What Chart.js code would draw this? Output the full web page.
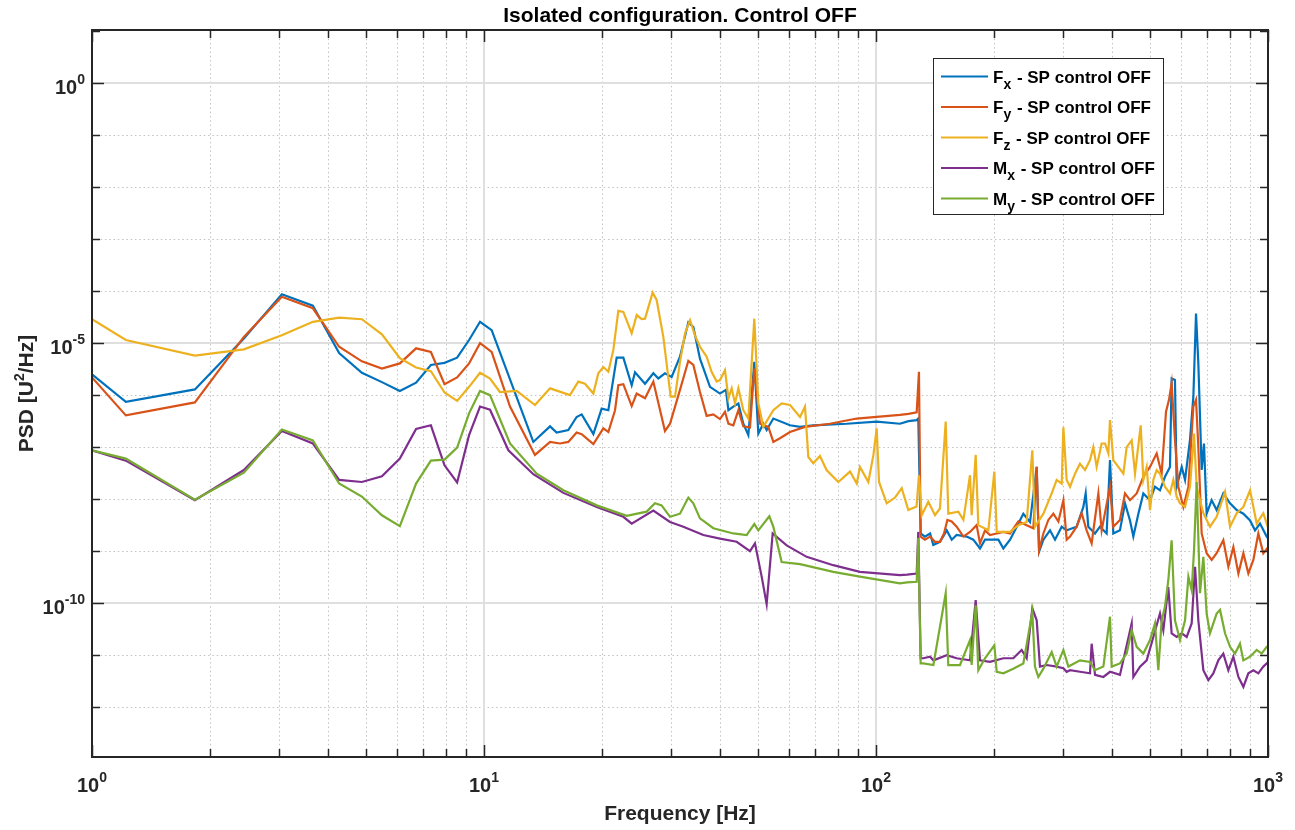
<!DOCTYPE html>
<html>
<head>
<meta charset="utf-8">
<title>Isolated configuration. Control OFF</title>
<script src="https://cdn.jsdelivr.net/npm/chart.js@4.4.1/dist/chart.umd.min.js"></script>
<style>
  html, body { margin: 0; padding: 0; background: #fff; }
  canvas { display: block; }
</style>
</head>
<body>
<canvas id="psdChart" width="1295" height="830"></canvas>
<script>
// PSD values as log10(PSD) in U^2/Hz

const fxFreq = [1, 1.22, 1.83, 2.44, 3.05, 3.66, 4.27, 4.88, 5.49, 6.10, 6.71, 7.32, 7.93, 8.54, 9.16, 9.77,
  10.46, 13.36, 14.74, 15.32, 16.41, 17.23, 17.75, 19.01, 19.96, 20.76,
  21.8, 22.67, 23.81, 24.28, 25.75, 27.04, 27.84, 28.95, 30.11, 31.62,
  33.21, 34.2, 35.56, 37.71, 39.99, 41.42, 42.02, 43.25, 44.56, 45.87,
  47.24, 48.93, 50.1, 51.59, 52.61, 54.71, 60.34, 64, 69.2, 84.2,
  100.4, 115.1, 121, 127, 128.2, 130, 133.3, 137.4, 140, 145.6,
  151.5, 156, 160.6, 170.3, 177.1, 184.2, 189.7, 195.3, 205.2, 211.3,
  219.8, 228.6, 237.6, 247.1, 257, 260.6, 267.3, 277.9, 286.2, 297.7,
  306.5, 325, 338, 342.7, 348, 362, 372.7, 387.6, 395.3, 403.1,
  419.1, 431.7, 444.6, 453.4, 467, 480.8, 500, 514.9, 530.2, 545.9,
  562.3, 567.8, 579, 584.8, 602.4, 614.3, 632.4, 645, 655.2, 664.2,
  677.3, 686.6, 697.4, 718.3, 739.6, 769.2, 800.1, 832.1, 865.3, 899.9,
  926.6, 954.2, 992.2, 1011.8];
const fxLog = [-5.60, -6.13, -5.89, -4.91, -4.06, -4.28, -5.19, -5.57, -5.75, -5.92, -5.76, -5.42, -5.38, -5.28, -4.94, -4.59,
  -4.75, -6.90, -6.60, -6.72, -6.67, -6.42, -6.37, -6.75, -6.26, -6.29,
  -5.28, -5.28, -5.81, -5.56, -5.78, -5.58, -5.68, -5.58, -5.65, -5.26,
  -4.60, -4.69, -5.30, -5.84, -5.97, -5.90, -6.29, -6.22, -6.16, -6.55,
  -6.77, -5.36, -6.74, -6.55, -6.67, -6.45, -6.58, -6.61, -6.58, -6.55,
  -6.51, -6.55, -6.50, -6.48, -6.45, -8.66, -8.72, -8.66, -8.88, -8.82,
  -8.60, -8.78, -8.69, -8.72, -8.78, -8.95, -8.78, -8.78, -8.78, -8.95,
  -8.78, -8.53, -8.28, -8.44, -7.38, -9.01, -8.78, -8.60, -8.78, -8.53,
  -8.60, -8.53, -8.15, -7.89, -8.53, -8.66, -8.53, -8.66, -7.25, -8.66,
  -8.60, -8.08, -8.41, -8.72, -8.28, -7.89, -8.02, -7.76, -7.83, -7.57,
  -7.38, -5.68, -5.71, -7.76, -7.38, -7.63, -6.86, -6.03, -4.43, -5.39,
  -7.44, -6.93, -8.28, -8.02, -8.21, -7.89, -8.08, -8.21, -8.28, -8.41,
  -8.60, -8.47, -8.72, -8.79];

const fyFreq = [1, 1.22, 1.83, 2.44, 3.05, 3.66, 4.27, 4.88, 5.49, 6.10, 6.71, 7.32, 7.93, 8.54, 9.16, 9.77,
  10.46, 11.65, 13.49, 14.74, 15.63, 16.41, 17.23, 17.75, 19.01, 20.16, 20.76, 21.59,
  22.01, 22.67, 23.81, 24.52, 25.75, 27.04, 28.95, 29.82, 31.62, 33.21,
  34.2, 35.56, 36.98, 38.46, 39.99, 41.19, 42.02, 43.25, 44.56, 45.87,
  47.7, 48.93, 50.59, 53.13, 54.71, 56.89, 60.34, 65.9, 76.3, 89.3,
  100.4, 115.1, 121, 127, 128.7, 130, 133.3, 137.4, 141.4, 145.6,
  149.1, 152.1, 156, 160.6, 167.1, 173.7, 180.6, 184.2, 189.7, 195.3,
  203.2, 211.3, 219.8, 230.8, 242.3, 252, 257, 260.6, 267.3, 275.2,
  283.4, 291.9, 300.6, 306.5, 312.6, 325, 334.7, 344.6, 354.9, 369.2,
  376.4, 395.3, 403.1, 419.1, 431.7, 444.6, 462.4, 480.8, 500, 520,
  535.4, 549.3, 559, 567.8, 579, 590.5, 608.3, 626.5, 645, 655.2,
  664.2, 677.3, 697.4, 718.3, 739.6, 769.2, 792.2, 815.9, 840.4, 865.3,
  891, 917.6, 944.8, 972.9, 1002];
const fyLog = [-5.66, -6.39, -6.14, -4.88, -4.11, -4.33, -5.07, -5.35, -5.49, -5.39, -5.10, -5.17, -5.79, -5.66, -5.39, -5.00,
  -5.17, -6.22, -7.15, -6.90, -6.93, -6.90, -6.72, -6.75, -6.94, -6.64, -6.71, -6.29,
  -5.81, -5.79, -6.21, -5.97, -6.06, -5.74, -6.69, -6.55, -5.90, -5.34,
  -5.42, -5.94, -6.40, -6.37, -6.46, -6.32, -6.55, -6.58, -6.29, -6.60,
  -6.62, -5.49, -6.55, -6.61, -6.90, -6.83, -6.71, -6.61, -6.55, -6.45,
  -6.42, -6.38, -6.36, -6.33, -5.55, -8.72, -8.78, -8.72, -8.82, -8.82,
  -8.66, -8.40, -8.43, -8.53, -8.72, -8.63, -8.50, -8.85, -8.60, -8.69,
  -8.66, -8.63, -8.66, -8.43, -8.50, -8.56, -7.38, -8.98, -8.66, -8.40,
  -8.28, -8.43, -8.02, -8.78, -8.72, -8.53, -8.27, -8.60, -8.85, -7.89,
  -8.60, -7.76, -8.53, -8.40, -7.89, -8.02, -7.89, -7.57, -7.38, -7.12,
  -7.51, -6.32, -6.09, -5.77, -6.86, -7.76, -8.15, -7.76, -6.22, -6.09,
  -7.00, -8.66, -9.04, -9.17, -9.04, -8.79, -9.30, -8.92, -9.43, -9.04,
  -9.43, -9.17, -8.66, -9.04, -8.92];

const fzFreq = [1, 1.22, 1.83, 2.44, 3.05, 3.66, 4.27, 4.88, 5.49, 6.10, 6.71, 7.32, 7.93, 8.54, 9.16, 9.77,
  10.36, 10.98, 12.12, 13.49, 14.74, 16.57, 17.4, 18.1, 19.01, 19.57, 20.16, 20.76, 21.38, 22.01,
  22.67, 23.81, 24.52, 25.25, 25.75, 26.93, 27.57, 28.67, 29.94, 30.71,
  31.62, 32.57, 33.54, 34.53, 35.56, 36.98, 38.07, 39.22, 39.99, 41.19,
  42.02, 42.84, 43.68, 44.56, 45.87, 47.24, 48.93, 50.1, 51.59, 54.71,
  57.45, 60.34, 64, 65.9, 67.2, 69.2, 71.95, 74.8, 80.15, 85.85,
  89.3, 91, 95.6, 98.5, 100.4, 101.8, 106.5, 111.8, 116.3, 120.9,
  126.9, 128.7, 130.8, 136, 141.4, 145.6, 150.6, 152.9, 162.2, 167.1,
  173.7, 175.4, 179.6, 182.4, 193.5, 200.4, 203.2, 219.8, 230.8, 242.3,
  250.5, 254.4, 267.3, 280.7, 289, 297.7, 300.6, 306.5, 312.6, 321.9,
  331.4, 341.4, 351.5, 358.4, 365.5, 376.4, 383.9, 391.5, 395.3, 403.1,
  415.1, 427.6, 436, 449, 457.9, 473.4, 480.8, 490.4, 500, 509.9,
  520, 530.2, 545.9, 562.3, 573.4, 584.8, 596.3, 614.3, 632.4, 647.6,
  657.7, 670.7, 684, 711.2, 739.6, 776.9, 800.1, 832.1, 865.3, 899.9,
  935.7, 972.9, 1011.8];
const fzLog = [-4.54, -4.94, -5.24, -5.12, -4.85, -4.59, -4.51, -4.54, -4.83, -5.29, -5.47, -5.54, -5.95, -6.11, -5.84, -5.57,
  -5.68, -5.94, -5.92, -6.19, -5.87, -6.00, -5.74, -5.78, -5.97, -5.58, -5.46, -5.55, -5.13, -4.38,
  -4.40, -4.81, -4.46, -4.54, -4.53, -4.03, -4.17, -4.88, -6.03, -6.03,
  -5.36, -4.81, -4.56, -4.85, -5.07, -5.26, -5.55, -5.74, -5.71, -5.52,
  -6.06, -5.87, -6.16, -5.87, -6.29, -6.45, -4.53, -6.16, -6.61, -6.29,
  -6.16, -6.19, -6.42, -6.22, -7.19, -7.31, -7.17, -7.44, -7.67, -7.47,
  -7.70, -7.38, -7.67, -7.15, -6.64, -7.67, -8.08, -7.97, -7.79, -8.21,
  -8.14, -7.54, -8.31, -8.05, -8.31, -8.18, -6.51, -8.28, -8.24, -8.40,
  -7.54, -8.31, -7.15, -8.50, -8.60, -7.47, -8.63, -8.63, -8.50, -8.44,
  -7.06, -8.53, -8.28, -7.89, -7.63, -7.70, -6.62, -7.63, -7.76, -7.51,
  -7.32, -7.44, -7.25, -7.00, -7.38, -6.93, -6.93, -7.12, -6.48, -7.25,
  -7.38, -7.51, -7.00, -6.87, -7.51, -6.58, -7.63, -7.38, -8.21, -7.63,
  -7.44, -7.51, -7.76, -7.89, -7.63, -7.95, -8.08, -8.15, -7.76, -6.74,
  -7.76, -8.02, -8.27, -8.53, -8.34, -7.86, -8.53, -8.27, -8.15, -7.83,
  -8.47, -8.27, -8.66];

const mxFreq = [1, 1.22, 1.83, 2.44, 3.05, 3.66, 4.27, 4.88, 5.49, 6.10, 6.71, 7.32, 7.93, 8.54, 9.16, 9.77,
  10.36, 11.54, 13.36, 15.94, 19.39, 22.67, 23.81, 27.04, 29.82, 32.25, 36.26, 39.99, 44.12, 47.7,
  49.12, 51.09, 52.61, 54.5, 59.17, 66.55, 77.8, 91, 115.1, 120,
  127, 128.2, 130, 132, 137.4, 140.1, 151.5, 160.6, 173.7, 179.6,
  184.2, 195.3, 211.3, 224, 235.3, 242.3, 250.5, 257, 262, 272.5,
  289, 300.6, 306.5, 312.6, 331.4, 351.5, 354.9, 362, 380.2, 395.3,
  419.1, 449, 453.4, 471.5, 490.4, 509.9, 530.2, 540.7, 556.8, 567.8,
  584.8, 602.4, 620.3, 638.7, 651.4, 664.2, 684, 704.4, 725.3, 746.8,
  769.2, 792.2, 815.9, 840.4, 865.3, 891, 917.6, 944.8, 972.9, 1011.8];
const mxLog = [-7.06, -7.26, -8.02, -7.44, -6.69, -6.93, -7.63, -7.67, -7.56, -7.22, -6.65, -6.58, -7.35, -7.68, -6.77, -6.22,
  -6.28, -7.06, -7.52, -7.88, -8.15, -8.34, -8.47, -8.22, -8.44, -8.53, -8.69, -8.76, -8.82, -9.00,
  -8.85, -9.49, -10.02, -8.66, -8.89, -9.11, -9.27, -9.40, -9.46, -9.45,
  -9.43, -8.63, -11.06, -11.06, -11.03, -11.10, -11.00, -11.06, -11.10, -9.94,
  -11.10, -11.13, -11.06, -11.06, -10.90, -11.06, -10.10, -10.33, -11.22, -11.19,
  -11.22, -11.25, -11.32, -11.29, -11.32, -11.35, -10.78, -11.38, -11.42, -11.32,
  -11.38, -10.39, -11.42, -11.22, -11.10, -10.65, -10.20, -10.52, -9.69, -10.58,
  -10.65, -10.58, -10.65, -10.39, -9.30, -10.33, -11.29, -11.48, -11.35, -11.10,
  -10.97, -11.29, -11.03, -11.42, -11.61, -11.35, -11.29, -11.35, -11.22, -11.10];

const myFreq = [1, 1.22, 1.83, 2.44, 3.05, 3.66, 4.27, 4.88, 5.49, 6.10, 6.71, 7.32, 7.93, 8.54, 9.16, 9.77,
  10.36, 11.65, 13.63, 15.94, 19.39, 23.12, 26, 27.3, 28.39, 29.82, 31.62, 33.21, 34.2, 35.56,
  38.46, 43.25, 46.78, 48.93, 50.1, 53.44, 54.71, 57.45, 64, 77.8,
  91, 115.1, 120, 127, 128.2, 130, 132, 140.1, 150.6, 152.9,
  163.8, 173.7, 175.4, 179.6, 182.4, 189.7, 200.4, 203.2, 211.3, 224,
  237.6, 250.5, 254.4, 259.5, 267.3, 280.7, 289, 300.6, 309.6, 331.4,
  351.5, 362, 380.2, 395.3, 399.2, 419.1, 436, 449, 462.4, 480.8,
  500, 514.9, 525.1, 535.4, 545.9, 556.8, 567.8, 579, 596.3, 614.3,
  626.5, 638.7, 647.6, 657.7, 670.7, 684, 697.4, 711.2, 739.6, 754.5,
  776.9, 800.1, 823.9, 848.2, 865.3, 899.9, 935.7, 963.4, 992.2, 1011.8];
const myLog = [-7.06, -7.22, -8.01, -7.49, -6.66, -6.87, -7.70, -7.95, -8.31, -8.52, -7.70, -7.26, -7.24, -7.01, -6.35, -5.92,
  -6.00, -6.93, -7.51, -7.83, -8.12, -8.32, -8.24, -8.08, -8.12, -8.34, -8.28, -7.97, -8.08, -8.37,
  -8.56, -8.66, -8.69, -8.48, -8.60, -8.33, -8.53, -9.21, -9.25, -9.40,
  -9.49, -9.62, -9.60, -9.59, -8.75, -11.16, -11.16, -11.19, -9.81, -11.19,
  -11.19, -10.71, -11.19, -10.04, -11.29, -11.06, -10.81, -11.32, -11.35, -11.26,
  -11.16, -10.17, -11.22, -11.42, -11.26, -10.94, -11.22, -10.90, -11.22, -11.10,
  -11.13, -11.29, -11.22, -10.26, -11.22, -11.16, -10.97, -10.52, -10.84, -10.97,
  -10.71, -10.39, -11.29, -10.33, -10.07, -9.56, -8.79, -10.33, -10.71, -10.33,
  -9.49, -9.75, -8.98, -7.67, -9.81, -9.11, -10.20, -10.58, -10.20, -10.13,
  -10.58, -10.84, -10.97, -10.78, -11.10, -11.03, -10.90, -10.97, -10.84, -10.81];

const seriesLabels = ['Fx - SP control OFF', 'Fy - SP control OFF', 'Fz - SP control OFF', 'Mx - SP control OFF', 'My - SP control OFF'];
const legendMain = ['F', 'F', 'F', 'M', 'M'];
const legendSub = ['x', 'y', 'z', 'x', 'y'];
const legendRest = ' - SP control OFF';
const seriesColors = ['#0072BD', '#D95319', '#EDB120', '#7E2F8E', '#77AC30'];

// axis ticks
const xMajorTicks = [1, 10, 100, 1000];
const xTickExp = ['0', '1', '2', '3'];
const xMinorTicks = [2, 3, 4, 5, 6, 7, 8, 9, 20, 30, 40, 50, 60, 70, 80, 90, 200, 300, 400, 500, 600, 700, 800, 900];
const yMajorTicks = [1e0, 1e-5, 1e-10];
const yTickExp = ['0', '-5', '-10'];
const yDecades = [1e1, 1e0, 1e-1, 1e-2, 1e-3, 1e-4, 1e-5, 1e-6, 1e-7, 1e-8, 1e-9, 1e-10, 1e-11, 1e-12, 1e-13];

const FONT = '"Liberation Sans", Arial, Helvetica, sans-serif';
const INK = '#262626';

function toPoints(freq, logs) {
  return freq.map((f, i) => ({ x: f, y: Math.pow(10, logs[i]) }));
}

const seriesData = [
  toPoints(fxFreq, fxLog),
  toPoints(fyFreq, fyLog),
  toPoints(fzFreq, fzLog),
  toPoints(mxFreq, mxLog),
  toPoints(myFreq, myLog)
];

function seg(ctx, x1, y1, x2, y2) {
  ctx.beginPath();
  ctx.moveTo(x1, y1);
  ctx.lineTo(x2, y2);
  ctx.stroke();
}

// "10" with a raised exponent
function powLabel(ctx, exp, x, y, align) {
  ctx.font = 'bold 20px ' + FONT;
  const wb = ctx.measureText('10').width;
  ctx.font = 'bold 14px ' + FONT;
  const we = ctx.measureText(exp).width;
  const total = wb + we;
  let x0 = x;
  if (align === 'right') x0 = x - total;
  if (align === 'center') x0 = x - total / 2;
  ctx.textAlign = 'left';
  ctx.textBaseline = 'alphabetic';
  ctx.font = 'bold 20px ' + FONT;
  ctx.fillText('10', x0, y);
  ctx.font = 'bold 14px ' + FONT;
  ctx.fillText(exp, x0 + wb, y - 10);
}

const matlabAxes = {
  id: 'matlabAxes',
  beforeDatasetsDraw(chart) {
    const { ctx, chartArea: a, scales: { x, y } } = chart;
    ctx.save();
    // dotted minor grid
    ctx.lineWidth = 1;
    ctx.strokeStyle = '#c2c2c2';
    ctx.setLineDash([1.5, 2.8]);
    xMinorTicks.forEach(v => {
      const px = Math.round(x.getPixelForValue(v)) + 0.5;
      seg(ctx, px, a.top, px, a.bottom);
    });
    yDecades.forEach(v => {
      if (yMajorTicks.includes(v)) return;
      const py = Math.round(y.getPixelForValue(v)) + 0.5;
      if (py < a.top + 3 || py > a.bottom - 3) return;
      seg(ctx, a.left, py, a.right, py);
    });
    // solid major grid
    ctx.setLineDash([]);
    ctx.strokeStyle = '#dfdfdf';
    ctx.lineWidth = 2;
    xMajorTicks.forEach(v => {
      const px = Math.round(x.getPixelForValue(v));
      if (px < a.left + 3 || px > a.right - 3) return;
      seg(ctx, px, a.top, px, a.bottom);
    });
    yMajorTicks.forEach(v => {
      const py = Math.round(y.getPixelForValue(v));
      seg(ctx, a.left, py, a.right, py);
    });
    ctx.restore();
  },
  afterDatasetsDraw(chart) {
    const { ctx, chartArea: a, scales: { x, y } } = chart;
    ctx.save();
    ctx.strokeStyle = INK;
    ctx.lineWidth = 1.5;
    // inward ticks on all four sides
    const xt = xMinorTicks.map(v => [v, 8]).concat(xMajorTicks.map(v => [v, 12]));
    xt.forEach(([v, len]) => {
      const px = Math.round(x.getPixelForValue(v)) + 0.5;
      seg(ctx, px, a.bottom, px, a.bottom - len);
      seg(ctx, px, a.top, px, a.top + len);
    });
    yDecades.forEach(v => {
      const py = Math.round(y.getPixelForValue(v)) + 0.5;
      if (py < a.top || py > a.bottom) return;
      const len = yMajorTicks.includes(v) ? 12 : 8;
      seg(ctx, a.left, py, a.left + len, py);
      seg(ctx, a.right, py, a.right - len, py);
    });
    // box
    ctx.lineWidth = 2;
    ctx.strokeRect(a.left, a.top, a.right - a.left, a.bottom - a.top);
    ctx.restore();
  },
  afterDraw(chart) {
    const { ctx, chartArea: a, scales: { x, y } } = chart;
    ctx.save();
    ctx.fillStyle = INK;
    // tick labels
    xMajorTicks.forEach((v, i) => powLabel(ctx, xTickExp[i], x.getPixelForValue(v), 792, 'center'));
    yMajorTicks.forEach((v, i) => powLabel(ctx, yTickExp[i], a.left - 7, y.getPixelForValue(v) + 11, 'right'));

    // titles
    const cx = (a.left + a.right) / 2;
    ctx.textAlign = 'center';
    ctx.textBaseline = 'alphabetic';
    ctx.fillStyle = '#000';
    ctx.font = 'bold 21px ' + FONT;
    ctx.fillText('Isolated configuration. Control OFF', cx, 22);
    ctx.fillStyle = INK;
    ctx.fillText('Frequency [Hz]', cx, 820);

    // y label with superscript
    ctx.save();
    ctx.translate(33, (a.top + a.bottom) / 2);
    ctx.rotate(-Math.PI / 2);
    ctx.textAlign = 'left';
    const p1 = 'PSD [U', p2 = '2', p3 = '/Hz]';
    ctx.font = 'bold 21px ' + FONT;
    const w1 = ctx.measureText(p1).width, w3 = ctx.measureText(p3).width;
    ctx.font = 'bold 14px ' + FONT;
    const w2 = ctx.measureText(p2).width;
    const sx = -(w1 + w2 + w3) / 2;
    ctx.font = 'bold 21px ' + FONT;
    ctx.fillText(p1, sx, 0);
    ctx.font = 'bold 14px ' + FONT;
    ctx.fillText(p2, sx + w1, -9);
    ctx.font = 'bold 21px ' + FONT;
    ctx.fillText(p3, sx + w1 + w2, 0);
    ctx.restore();

    // legend
    const lx = 933, ly = 58, lw = 230, lh = 156;
    ctx.fillStyle = '#fff';
    ctx.fillRect(lx, ly, lw, lh);
    ctx.strokeStyle = INK;
    ctx.lineWidth = 1;
    ctx.strokeRect(lx + 0.5, ly + 0.5, lw, lh);
    ctx.textAlign = 'left';
    seriesColors.forEach((c, i) => {
      const rowY = ly + 18.5 + i * 30.5;
      ctx.strokeStyle = c;
      ctx.lineWidth = 2.2;
      seg(ctx, lx + 8, rowY, lx + 55, rowY);
      ctx.fillStyle = '#000';
      let tx = lx + 60;
      ctx.font = 'bold 17px ' + FONT;
      ctx.fillText(legendMain[i], tx, rowY + 6);
      tx += ctx.measureText(legendMain[i]).width;
      ctx.font = 'bold 14px ' + FONT;
      ctx.fillText(legendSub[i], tx, rowY + 12);
      tx += ctx.measureText(legendSub[i]).width + 1;
      ctx.font = 'bold 17px ' + FONT;
      ctx.fillText(legendRest, tx, rowY + 6);
    });
    ctx.restore();
  }
};

new Chart(document.getElementById('psdChart'), {
  type: 'line',
  data: {
    datasets: seriesData.map((pts, i) => ({
      label: seriesLabels[i],
      data: pts,
      borderColor: seriesColors[i],
      backgroundColor: seriesColors[i],
      borderWidth: 2.2,
      pointRadius: 0,
      tension: 0,
      fill: false,
      order: seriesData.length - i
    }))
  },
  options: {
    responsive: false,
    animation: false,
    layout: { padding: { left: 92, right: 27, top: 30, bottom: 73 } },
    plugins: {
      legend: { display: false },
      tooltip: { enabled: false },
      title: { display: false }
    },
    scales: {
      x: { type: 'logarithmic', min: 1, max: 1000, display: false },
      y: { type: 'logarithmic', min: 1.1e-13, max: 10.5, display: false }
    }
  },
  plugins: [matlabAxes]
});
</script>
</body>
</html>
